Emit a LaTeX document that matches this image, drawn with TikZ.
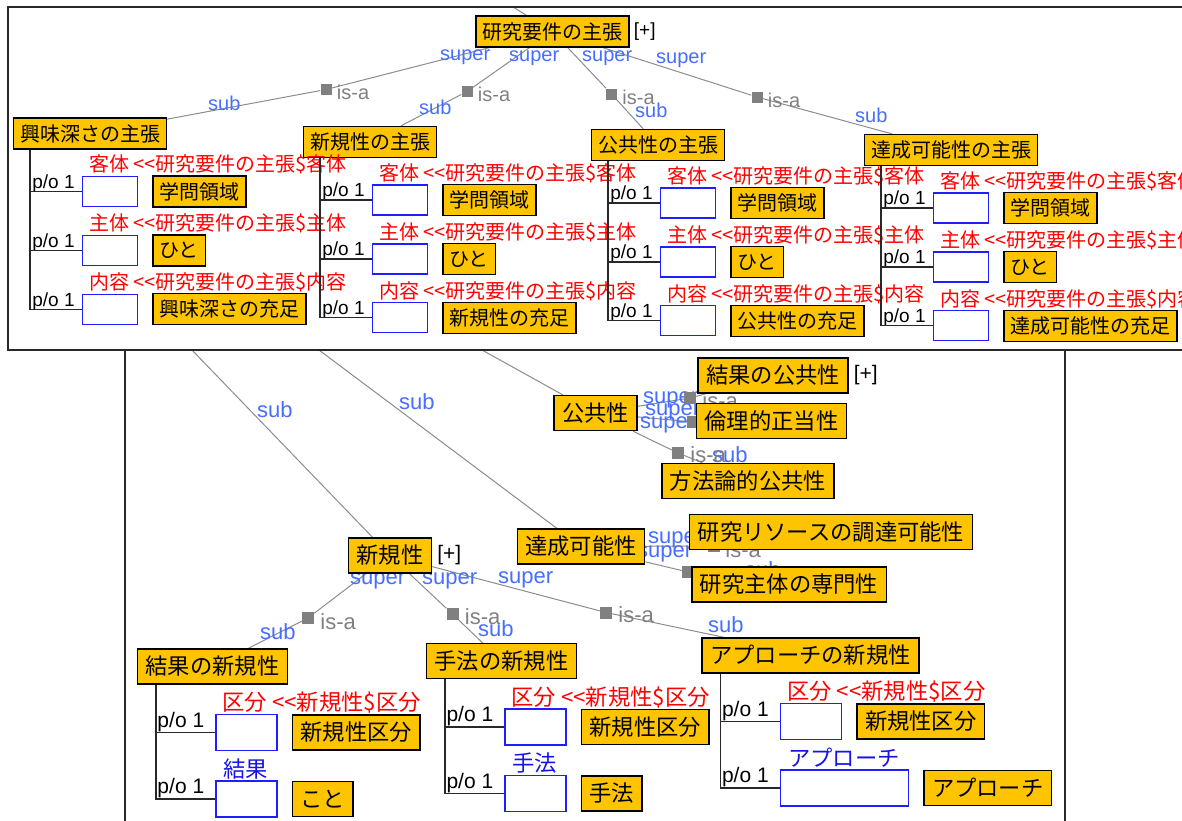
\documentclass[tikz,border=0pt]{standalone}
\usepackage{fontspec}
\setmainfont{Noto Sans CJK JP}
\newfontfamily\latinfont{Liberation Sans}
\usetikzlibrary{positioning}
\pgfdeclarelayer{bg}
\pgfsetlayers{bg,main}

\definecolor{conceptfill}{RGB}{255,196,0}
\definecolor{slotblue}{RGB}{30,30,255}
\definecolor{labblue}{RGB}{70,110,255}
\definecolor{namblue}{RGB}{20,20,230}
\definecolor{isagray}{RGB}{128,128,128}
\definecolor{linegray}{RGB}{140,140,140}
\definecolor{rolered}{RGB}{255,0,0}
\definecolor{partblack}{RGB}{40,40,40}

\newcommand\topjp{\fontsize{20}{24}\selectfont}
\newcommand\botjp{\fontsize{22.3}{26}\selectfont}
\newcommand\toplat{\latinfont\fontsize{20}{24}\selectfont}
\newcommand\botlat{\latinfont\fontsize{22}{26}\selectfont}
\newcommand\toppo{\latinfont\fontsize{19}{23}\selectfont}
\newcommand\botpo{\latinfont\fontsize{21}{25}\selectfont}

\begin{document}
\begin{tikzpicture}[x=1pt, y=-1pt,
    concept/.style={draw=black, line width=1.4pt, fill=conceptfill, inner xsep=6.5pt, inner ysep=0pt, minimum height=31pt, font=\topjp},
    bigconcept/.style={concept, inner xsep=8pt, minimum height=35pt, font=\botjp},
    slotbox/.style={draw=slotblue, line width=1.4pt, inner sep=0pt, minimum width=55pt, minimum height=30pt},
    bigslot/.style={slotbox, minimum width=61pt, minimum height=36pt},
    isasq/.style={fill=isagray, inner sep=0pt, minimum size=11pt},
    bigisasq/.style={isasq, minimum size=12pt},
    isaline/.style={draw=linegray, line width=1pt},
    partline/.style={draw=partblack, line width=1.4pt},
    panel/.style={draw=partblack, line width=1.5pt},
    suplab/.style={text=labblue, font=\toplat, inner sep=0pt, anchor=base west},
    bigsuplab/.style={suplab, font=\botlat},
    isalab/.style={suplab, text=isagray},
    bigisalab/.style={isalab, font=\botlat},
    rolelab/.style={text=rolered, font=\topjp, inner sep=0pt, anchor=base west},
    bigrolelab/.style={rolelab, font=\botjp},
    namelab/.style={bigrolelab, text=namblue},
    polab/.style={font=\toppo, inner sep=0pt, anchor=base east},
    bigpolab/.style={polab, font=\botpo},
    pluslab/.style={font=\toppo, inner sep=0pt},
    bigpluslab/.style={pluslab, font=\botpo}
  ]
  \useasboundingbox (0,0) rectangle (1182,820);
  \draw[panel] (8,7) rectangle (1200,350);
  \draw[panel] (125,350) -- (125,830);
  \draw[panel] (1065,350) -- (1065,830);

  \coordinate (kenkyutop) at (513,7);
  \coordinate (hidA) at (192,350);
  \coordinate (hidB) at (319,350);
  \coordinate (hidC) at (482,350);

  \node[suplab] (sup1) at (440,60) {super};
  \node[suplab] (sup2) at (509,61) {super};
  \node[suplab] (sup3) at (582,61) {super};
  \node[suplab] (sup4) at (656,63) {super};
  \node[suplab] (sub1) at (208,110) {sub};
  \node[suplab] (sub2) at (419,114) {sub};
  \node[suplab] (sub3) at (635,117) {sub};
  \node[suplab] (sub4) at (855,122) {sub};
  \node[bigsuplab] (subA) at (257,417) {sub};
  \node[bigsuplab] (subB) at (399,409) {sub};
  \node[bigsuplab] (sup5) at (350,584) {super};
  \node[bigsuplab] (sup6) at (422,584) {super};
  \node[bigsuplab] (sup7) at (498,583) {super};
  \node[bigsuplab] (sup8) at (643,403) {super};
  \node[bigsuplab] (sup9) at (645,415) {super};
  \node[bigsuplab] (sup10) at (640,428) {super};
  \node[bigsuplab] (sup11) at (648,543) {super};
  \node[bigsuplab] (sup12) at (637,557) {super};
  \node[bigsuplab] (sub5) at (260,639) {sub};
  \node[bigsuplab] (sub6) at (478,636) {sub};
  \node[bigsuplab] (sub7) at (708,632) {sub};
  \node[bigsuplab] (sub8) at (712,462) {sub};
  \node[bigsuplab] (sub9) at (745,577) {sub};

  \node[isasq] (isa1) at (326,89.5) {};
  \node[isasq] (isa2) at (467,91.5) {};
  \node[isasq] (isa3) at (611.5,94) {};
  \node[isasq] (isa4) at (757,97) {};
  \node[bigisasq] (isa5) at (308,618) {};
  \node[bigisasq] (isa6) at (452.5,614) {};
  \node[bigisasq] (isa7) at (606,612.5) {};
  \node[bigisasq] (isa8) at (690,398) {};
  \node[bigisasq] (isa9) at (693,422) {};
  \node[bigisasq] (isa10) at (678,453) {};
  \node[bigisasq] (isa11) at (714,546) {};
  \node[bigisasq] (isa12) at (688,572) {};
  \node[isalab] (isalab1) at ([xshift=5pt,yshift=-10pt]isa1.east) {is-a};
  \node[isalab] (isalab2) at ([xshift=5pt,yshift=-10pt]isa2.east) {is-a};
  \node[isalab] (isalab3) at ([xshift=5pt,yshift=-10pt]isa3.east) {is-a};
  \node[isalab] (isalab4) at ([xshift=5pt,yshift=-10pt]isa4.east) {is-a};
  \node[bigisalab] (isalab5) at ([xshift=6pt,yshift=-11pt]isa5.east) {is-a};
  \node[bigisalab] (isalab6) at ([xshift=6pt,yshift=-10pt]isa6.east) {is-a};
  \node[bigisalab] (isalab7) at ([xshift=6pt,yshift=-10pt]isa7.east) {is-a};
  \node[bigisalab] (isalab8) at ([xshift=6pt,yshift=-10pt]isa8.east) {is-a};
  \node[bigisalab] (isalab10) at ([xshift=6pt,yshift=-9pt]isa10.east) {is-a};
  \node[bigisalab] (isalab11) at ([xshift=5pt,yshift=-11pt]isa11.east) {is-a};

  \node[concept] (kenkyu) at (552.5,31.5) {研究要件の主張};
  \node[pluslab, right=4pt of kenkyu] (plus1) {[+]};
  \node[concept] (kyomi) at (90,133.5) {興味深さの主張};
  \node[concept] (shinki) at (370,142) {新規性の主張};
  \node[concept] (kokyo) at (658,145) {公共性の主張};
  \node[concept] (tassei) at (951,150) {達成可能性の主張};

  \node[slotbox, below right=26pt and 69pt of kyomi.south west] (kyomislot1) {};
  \node[slotbox, below=27.5pt of kyomislot1] (kyomislot2) {};
  \node[slotbox, below=27.5pt of kyomislot2] (kyomislot3) {};
  \node[concept, right=14pt of kyomislot1] (kyomival1) {学問領域};
  \node[concept, right=14pt of kyomislot2] (kyomival2) {ひと};
  \node[concept, right=14pt of kyomislot3] (kyomival3) {興味深さの充足};
  \node[rolelab] (kyomirole1) at ([xshift=7pt,yshift=4pt]kyomislot1.north west) {客体 <\kern0pt<研究要件の主張\$客体};
  \node[rolelab] (kyomirole2) at ([xshift=7pt,yshift=4pt]kyomislot2.north west) {主体 <\kern0pt<研究要件の主張\$主体};
  \node[rolelab] (kyomirole3) at ([xshift=7pt,yshift=4pt]kyomislot3.north west) {内容 <\kern0pt<研究要件の主張\$内容};
  \node[polab] (kyomipo1) at ([xshift=-7pt,yshift=3pt]kyomislot1.west) {p/o 1};
  \node[polab] (kyomipo2) at ([xshift=-7pt,yshift=3pt]kyomislot2.west) {p/o 1};
  \node[polab] (kyomipo3) at ([xshift=-7pt,yshift=3pt]kyomislot3.west) {p/o 1};
  \draw[partline] ([xshift=17pt]kyomi.south west) |- (kyomislot1) ([xshift=17pt]kyomi.south west) |- (kyomislot2) ([xshift=17pt]kyomi.south west) |- (kyomislot3);

  \node[slotbox, below right=26pt and 69pt of shinki.south west] (shinkislot1) {};
  \node[slotbox, below=27.5pt of shinkislot1] (shinkislot2) {};
  \node[slotbox, below=27.5pt of shinkislot2] (shinkislot3) {};
  \node[concept, right=14pt of shinkislot1] (shinkival1) {学問領域};
  \node[concept, right=14pt of shinkislot2] (shinkival2) {ひと};
  \node[concept, right=14pt of shinkislot3] (shinkival3) {新規性の充足};
  \node[rolelab] (shinkirole1) at ([xshift=7pt,yshift=4pt]shinkislot1.north west) {客体 <\kern0pt<研究要件の主張\$客体};
  \node[rolelab] (shinkirole2) at ([xshift=7pt,yshift=4pt]shinkislot2.north west) {主体 <\kern0pt<研究要件の主張\$主体};
  \node[rolelab] (shinkirole3) at ([xshift=7pt,yshift=4pt]shinkislot3.north west) {内容 <\kern0pt<研究要件の主張\$内容};
  \node[polab] (shinkipo1) at ([xshift=-7pt,yshift=3pt]shinkislot1.west) {p/o 1};
  \node[polab] (shinkipo2) at ([xshift=-7pt,yshift=3pt]shinkislot2.west) {p/o 1};
  \node[polab] (shinkipo3) at ([xshift=-7pt,yshift=3pt]shinkislot3.west) {p/o 1};
  \draw[partline] ([xshift=17pt]shinki.south west) |- (shinkislot1) ([xshift=17pt]shinki.south west) |- (shinkislot2) ([xshift=17pt]shinki.south west) |- (shinkislot3);

  \node[slotbox, below right=26pt and 69pt of kokyo.south west] (kokyoslot1) {};
  \node[slotbox, below=27.5pt of kokyoslot1] (kokyoslot2) {};
  \node[slotbox, below=27.5pt of kokyoslot2] (kokyoslot3) {};
  \node[concept, right=14pt of kokyoslot1] (kokyoval1) {学問領域};
  \node[concept, right=14pt of kokyoslot2] (kokyoval2) {ひと};
  \node[concept, right=14pt of kokyoslot3] (kokyoval3) {公共性の充足};
  \node[rolelab] (kokyorole1) at ([xshift=7pt,yshift=4pt]kokyoslot1.north west) {客体 <\kern0pt<研究要件の主張\$客体};
  \node[rolelab] (kokyorole2) at ([xshift=7pt,yshift=4pt]kokyoslot2.north west) {主体 <\kern0pt<研究要件の主張\$主体};
  \node[rolelab] (kokyorole3) at ([xshift=7pt,yshift=4pt]kokyoslot3.north west) {内容 <\kern0pt<研究要件の主張\$内容};
  \node[polab] (kokyopo1) at ([xshift=-7pt,yshift=3pt]kokyoslot1.west) {p/o 1};
  \node[polab] (kokyopo2) at ([xshift=-7pt,yshift=3pt]kokyoslot2.west) {p/o 1};
  \node[polab] (kokyopo3) at ([xshift=-7pt,yshift=3pt]kokyoslot3.west) {p/o 1};
  \draw[partline] ([xshift=17pt]kokyo.south west) |- (kokyoslot1) ([xshift=17pt]kokyo.south west) |- (kokyoslot2) ([xshift=17pt]kokyo.south west) |- (kokyoslot3);

  \node[slotbox, below right=26pt and 69pt of tassei.south west] (tasseislot1) {};
  \node[slotbox, below=27.5pt of tasseislot1] (tasseislot2) {};
  \node[slotbox, below=27.5pt of tasseislot2] (tasseislot3) {};
  \node[concept, right=14pt of tasseislot1] (tasseival1) {学問領域};
  \node[concept, right=14pt of tasseislot2] (tasseival2) {ひと};
  \node[concept, right=14pt of tasseislot3] (tasseival3) {達成可能性の充足};
  \node[rolelab] (tasseirole1) at ([xshift=7pt,yshift=4pt]tasseislot1.north west) {客体 <\kern0pt<研究要件の主張\$客体};
  \node[rolelab] (tasseirole2) at ([xshift=7pt,yshift=4pt]tasseislot2.north west) {主体 <\kern0pt<研究要件の主張\$主体};
  \node[rolelab] (tasseirole3) at ([xshift=7pt,yshift=4pt]tasseislot3.north west) {内容 <\kern0pt<研究要件の主張\$内容};
  \node[polab] (tasseipo1) at ([xshift=-7pt,yshift=3pt]tasseislot1.west) {p/o 1};
  \node[polab] (tasseipo2) at ([xshift=-7pt,yshift=3pt]tasseislot2.west) {p/o 1};
  \node[polab] (tasseipo3) at ([xshift=-7pt,yshift=3pt]tasseislot3.west) {p/o 1};
  \draw[partline] ([xshift=17pt]tassei.south west) |- (tasseislot1) ([xshift=17pt]tassei.south west) |- (tasseislot2) ([xshift=17pt]tassei.south west) |- (tasseislot3);

  \node[bigconcept] (kokyosei) at (595.5,413) {公共性};
  \node[bigconcept] (kekkakokyo) at (773,375.5) {結果の公共性};
  \node[bigpluslab, right=5pt of kekkakokyo] (plus3) {[+]};
  \node[bigconcept] (rinri) at (771.5,421) {倫理的正当性};
  \node[bigconcept] (hoho) at (748,481) {方法論的公共性};
  \node[bigconcept] (tasseisei) at (581,546.5) {達成可能性};
  \node[bigconcept] (resource) at (831,532) {研究リソースの調達可能性};
  \node[bigconcept] (senmon) at (789,584.5) {研究主体の専門性};
  \node[bigconcept] (shinkisei) at (390,555.5) {新規性};
  \node[bigpluslab, right=5pt of shinkisei] (plus2) {[+]};
  \node[bigconcept] (kekkashinki) at (212.5,666.5) {結果の新規性};
  \node[bigconcept] (shuho) at (501.5,661) {手法の新規性};
  \node[bigconcept] (approach) at (810.5,655.5) {アプローチの新規性};

  \node[bigslot, below right=29pt and 78.5pt of kekkashinki.south west] (kekkaslot1) {};
  \node[bigslot, below=29pt of kekkaslot1] (kekkaslot2) {};
  \node[bigconcept, right=14pt of kekkaslot1] (kekkaval1) {新規性区分};
  \node[bigconcept, right=14pt of kekkaslot2] (kekkaval2) {こと};
  \node[bigrolelab] (kekkarole1) at ([xshift=7pt,yshift=3pt]kekkaslot1.north west) {区分 <\kern0pt<新規性\$区分};
  \node[namelab] (kekkarole2) at ([xshift=8pt,yshift=3pt]kekkaslot2.north west) {結果};
  \node[bigpolab] (kekkapo1) at ([xshift=-11pt,yshift=5pt]kekkaslot1.west) {p/o 1};
  \node[bigpolab] (kekkapo2) at ([xshift=-11pt,yshift=5pt]kekkaslot2.west) {p/o 1};
  \draw[partline] ([xshift=19pt]kekkashinki.south west) |- (kekkaslot1) ([xshift=19pt]kekkashinki.south west) |- (kekkaslot2);

  \node[bigslot, below right=29pt and 78.5pt of shuho.south west] (shuhoslot1) {};
  \node[bigslot, below=29pt of shuhoslot1] (shuhoslot2) {};
  \node[bigconcept, right=14pt of shuhoslot1] (shuhoval1) {新規性区分};
  \node[bigconcept, right=14pt of shuhoslot2] (shuhoval2) {手法};
  \node[bigrolelab] (shuhorole1) at ([xshift=7pt,yshift=3pt]shuhoslot1.north west) {区分 <\kern0pt<新規性\$区分};
  \node[namelab] (shuhorole2) at ([xshift=8pt,yshift=3pt]shuhoslot2.north west) {手法};
  \node[bigpolab] (shuhopo1) at ([xshift=-11pt,yshift=5pt]shuhoslot1.west) {p/o 1};
  \node[bigpolab] (shuhopo2) at ([xshift=-11pt,yshift=5pt]shuhoslot2.west) {p/o 1};
  \draw[partline] ([xshift=19pt]shuho.south west) |- (shuhoslot1) ([xshift=19pt]shuho.south west) |- (shuhoslot2);

  \node[bigslot, below right=29pt and 78.5pt of approach.south west] (approachslot1) {};
  \node[bigslot, minimum width=128pt, below=29pt of approachslot1.south west, anchor=north west] (approachslot2) {};
  \node[bigconcept, right=14pt of approachslot1] (approachval1) {新規性区分};
  \node[bigconcept, right=14pt of approachslot2] (approachval2) {アプローチ};
  \node[bigrolelab] (approachrole1) at ([xshift=7pt,yshift=3pt]approachslot1.north west) {区分 <\kern0pt<新規性\$区分};
  \node[namelab] (approachrole2) at ([xshift=8pt,yshift=3pt]approachslot2.north west) {アプローチ};
  \node[bigpolab] (approachpo1) at ([xshift=-11pt,yshift=5pt]approachslot1.west) {p/o 1};
  \node[bigpolab] (approachpo2) at ([xshift=-11pt,yshift=5pt]approachslot2.west) {p/o 1};
  \draw[partline] ([xshift=19pt]approach.south west) |- (approachslot1) ([xshift=19pt]approach.south west) |- (approachslot2);

  \begin{pgfonlayer}{bg}
    \draw[isaline] (kenkyutop) -- (kenkyu);
    \draw[isaline] (kenkyu) -- (isa1) -- (kyomi);
    \draw[isaline] (kenkyu) -- (isa2) -- (shinki);
    \draw[isaline] (kenkyu) -- (isa3) -- (kokyo);
    \draw[isaline] (kenkyu) -- (isa4) -- (tassei);
    \draw[isaline] (hidA) -- (shinkisei);
    \draw[isaline] (hidB) -- (tasseisei);
    \draw[isaline] (hidC) -- (kokyosei);
    \draw[isaline] (kokyosei) -- (isa8) -- (kekkakokyo);
    \draw[isaline] (kokyosei) -- (isa9) -- (rinri);
    \draw[isaline] (kokyosei) -- (isa10) -- (hoho);
    \draw[isaline] (tasseisei) -- (isa11) -- (resource);
    \draw[isaline] (tasseisei) -- (isa12) -- (senmon);
    \draw[isaline] (shinkisei) -- (isa5) -- (kekkashinki);
    \draw[isaline] (shinkisei) -- (isa6) -- (shuho);
    \draw[isaline] (shinkisei) -- (isa7) -- (approach);
  \end{pgfonlayer}
\end{tikzpicture}
\end{document}
